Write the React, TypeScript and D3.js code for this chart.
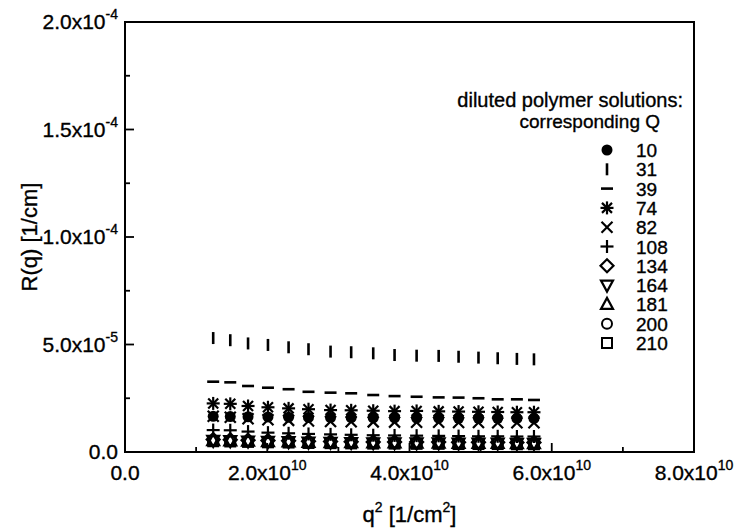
import React from "react";
import * as d3 from "d3";

// q² values (units of 1e10 1/cm²)
const qSquared = [1.24, 1.48, 1.73, 2.01, 2.30, 2.58, 2.89, 3.18, 3.49, 3.79, 4.10, 4.41, 4.69, 4.97, 5.24, 5.51, 5.75];

// R(q) values (units of 1e-5 1/cm), one array per Q
const R10 = [1.66, 1.65, 1.64, 1.63, 1.62, 1.61, 1.60, 1.60, 1.59, 1.59, 1.58, 1.58, 1.57, 1.57, 1.57, 1.56, 1.56];
const R31 = [5.30, 5.20, 5.05, 4.98, 4.87, 4.78, 4.67, 4.64, 4.59, 4.51, 4.48, 4.47, 4.43, 4.39, 4.36, 4.33, 4.31];
const R39 = [3.27, 3.24, 3.07, 2.99, 2.92, 2.80, 2.76, 2.73, 2.65, 2.60, 2.57, 2.54, 2.53, 2.50, 2.45, 2.45, 2.42];
const R74 = [2.26, 2.24, 2.14, 2.08, 2.03, 1.99, 1.95, 1.94, 1.92, 1.90, 1.91, 1.89, 1.88, 1.87, 1.86, 1.85, 1.85];
const R82 = [1.66, 1.62, 1.55, 1.50, 1.47, 1.44, 1.42, 1.41, 1.40, 1.39, 1.38, 1.38, 1.37, 1.37, 1.36, 1.36, 1.36];
const R108 = [1.02, 1.01, 0.95, 0.90, 0.87, 0.84, 0.82, 0.80, 0.78, 0.77, 0.76, 0.75, 0.74, 0.73, 0.73, 0.72, 0.72];
const R134 = [0.58, 0.57, 0.55, 0.53, 0.52, 0.50, 0.49, 0.48, 0.47, 0.47, 0.46, 0.46, 0.45, 0.45, 0.45, 0.44, 0.44];
const R164 = [0.54, 0.53, 0.51, 0.49, 0.48, 0.46, 0.45, 0.44, 0.43, 0.43, 0.42, 0.42, 0.41, 0.41, 0.41, 0.40, 0.40];
const R181 = [0.53, 0.52, 0.50, 0.48, 0.47, 0.45, 0.44, 0.43, 0.42, 0.42, 0.41, 0.41, 0.40, 0.40, 0.40, 0.39, 0.39];
const R200 = [0.52, 0.51, 0.49, 0.47, 0.46, 0.44, 0.43, 0.42, 0.41, 0.41, 0.40, 0.40, 0.39, 0.39, 0.39, 0.38, 0.38];
const R210 = [0.50, 0.49, 0.47, 0.45, 0.44, 0.42, 0.41, 0.40, 0.39, 0.39, 0.38, 0.38, 0.37, 0.37, 0.37, 0.36, 0.36];

const seriesLabels = ["10", "31", "39", "74", "82", "108", "134", "164", "181", "200", "210"];
const seriesValues = [R10, R31, R39, R74, R82, R108, R134, R164, R181, R200, R210];
const seriesSymbols = ["dot", "vbar", "hbar", "asterisk", "cross", "plus", "diamond", "tridown", "triup", "circle", "square"];

const xMajorTicks = [0, 2e10, 4e10, 6e10, 8e10];
const xMinorTicks = [1e10, 3e10, 5e10, 7e10];
const xTickBase = ["0.0", "2.0x10", "4.0x10", "6.0x10", "8.0x10"];
const xTickExp = ["", "10", "10", "10", "10"];
const yMajorTicks = [0, 5e-5, 1e-4, 1.5e-4, 2e-4];
const yMinorTicks = [2.5e-5, 7.5e-5, 1.25e-4, 1.75e-4];
const yTickBase = ["0.0", "5.0x10", "1.0x10", "1.5x10", "2.0x10"];
const yTickExp = ["", "-5", "-4", "-4", "-4"];

const FONT = "'Liberation Sans', Arial, sans-serif";

function Marker({ type, x, y }: { type: string; x: number; y: number }) {
  const k = "#000";
  switch (type) {
    case "dot":
      return <circle cx={x} cy={y} r={5.5} fill={k} />;
    case "vbar":
      return <line x1={x} x2={x} y1={y - 6} y2={y + 6} stroke={k} strokeWidth={2.6} />;
    case "hbar":
      return <line x1={x - 6} x2={x + 6} y1={y} y2={y} stroke={k} strokeWidth={2.6} />;
    case "asterisk":
      return (
        <g stroke={k} strokeWidth={2.2}>
          <line x1={x} x2={x} y1={y - 6.5} y2={y + 6.5} />
          <line x1={x - 6.5} x2={x + 6.5} y1={y} y2={y} />
          <line x1={x - 5} x2={x + 5} y1={y - 5} y2={y + 5} />
          <line x1={x - 5} x2={x + 5} y1={y + 5} y2={y - 5} />
        </g>
      );
    case "cross":
      return (
        <g stroke={k} strokeWidth={2.2}>
          <line x1={x - 5.5} x2={x + 5.5} y1={y - 5.5} y2={y + 5.5} />
          <line x1={x - 5.5} x2={x + 5.5} y1={y + 5.5} y2={y - 5.5} />
        </g>
      );
    case "plus":
      return (
        <g stroke={k} strokeWidth={2.2}>
          <line x1={x} x2={x} y1={y - 6.5} y2={y + 6.5} />
          <line x1={x - 6.5} x2={x + 6.5} y1={y} y2={y} />
        </g>
      );
    case "diamond":
      return <path d={`M${x},${y - 6.5}L${x + 6.5},${y}L${x},${y + 6.5}L${x - 6.5},${y}Z`} fill="none" stroke={k} strokeWidth={2.2} />;
    case "tridown":
      return <path d={`M${x - 6},${y - 4.5}L${x + 6},${y - 4.5}L${x},${y + 6.5}Z`} fill="none" stroke={k} strokeWidth={2.2} />;
    case "triup":
      return <path d={`M${x - 6},${y + 4.5}L${x + 6},${y + 4.5}L${x},${y - 6.5}Z`} fill="none" stroke={k} strokeWidth={2.2} />;
    case "circle":
      return <circle cx={x} cy={y} r={5} fill="none" stroke={k} strokeWidth={2} />;
    case "square":
      return <rect x={x - 5} y={y - 5} width={10} height={10} fill="none" stroke={k} strokeWidth={2} />;
    default:
      return null;
  }
}

export default function App() {
  const left = 125, right = 694, top = 22, bottom = 452;
  const x = d3.scaleLinear().domain([0, 8e10]).range([left, right]);
  const y = d3.scaleLinear().domain([0, 2e-4]).range([bottom, top]);

  const legendX = 607;
  const legendY0 = 150;
  const legendStep = 19.3;
  const txt = { fill: "#000", stroke: "#000", strokeWidth: 0.35 };

  return (
    <svg width={735} height={528} style={{ position: "absolute", left: 0, top: 0, background: "#fff" }} fontFamily={FONT}>
      <rect x={0} y={0} width={735} height={528} fill="#fff" />
      {/* frame */}
      <rect x={left} y={top} width={right - left} height={bottom - top} fill="none" stroke="#000" strokeWidth={2} />
      {/* x ticks */}
      {xMajorTicks.map((t) => (
        <line key={"xM" + t} x1={x(t)} x2={x(t)} y1={bottom} y2={bottom - 9} stroke="#000" strokeWidth={1.8} />
      ))}
      {xMinorTicks.map((t) => (
        <line key={"xm" + t} x1={x(t)} x2={x(t)} y1={bottom} y2={bottom - 5} stroke="#000" strokeWidth={1.8} />
      ))}
      {yMajorTicks.map((t) => (
        <line key={"yM" + t} x1={left} x2={left + 9} y1={y(t)} y2={y(t)} stroke="#000" strokeWidth={1.8} />
      ))}
      {yMinorTicks.map((t) => (
        <line key={"ym" + t} x1={left} x2={left + 5} y1={y(t)} y2={y(t)} stroke="#000" strokeWidth={1.8} />
      ))}
      {/* x tick labels */}
      {xMajorTicks.map((t, i) => (
        <text key={"xl" + t} x={x(t)} y={bottom + 28} textAnchor="middle" fontSize={21} {...txt}>
          <tspan>{xTickBase[i]}</tspan>
          {xTickExp[i] && (
            <tspan fontSize={14} dy={-10}>{xTickExp[i]}</tspan>
          )}
        </text>
      ))}
      {/* y tick labels */}
      {yMajorTicks.map((t, i) => (
        <text key={"yl" + t} x={left - 7} y={y(t) + 7} textAnchor="end" fontSize={21} {...txt}>
          <tspan>{yTickBase[i]}</tspan>
          {yTickExp[i] && (
            <tspan fontSize={14} dy={-10}>{yTickExp[i]}</tspan>
          )}
        </text>
      ))}
      {/* axis titles */}
      <text x={(left + right) / 2} y={522} textAnchor="middle" fontSize={22} {...txt}>
        <tspan>q</tspan>
        <tspan fontSize={14} dy={-10}>2</tspan>
        <tspan dy={10}> [1/cm</tspan>
        <tspan fontSize={14} dy={-10}>2</tspan>
        <tspan dy={10}>]</tspan>
      </text>
      <text transform={`translate(37,${(top + bottom) / 2}) rotate(-90)`} textAnchor="middle" fontSize={22} {...txt}>
        R(q) [1/cm]
      </text>
      {/* data */}
      {seriesValues.map((vals, si) => (
        <g key={"s" + si}>
          {vals.map((v, i) => (
            <Marker key={i} type={seriesSymbols[si]} x={x(qSquared[i] * 1e10)} y={y(v * 1e-5)} />
          ))}
        </g>
      ))}
      {/* legend */}
      <text x={683} y={107} textAnchor="end" fontSize={20} {...txt}>diluted polymer solutions:</text>
      <text x={660} y={128} textAnchor="end" fontSize={19} {...txt}>corresponding Q</text>
      {seriesLabels.map((lab, i) => (
        <g key={"lg" + lab}>
          <Marker type={seriesSymbols[i]} x={legendX} y={legendY0 + i * legendStep} />
          <text x={636} y={legendY0 + i * legendStep + 7} fontSize={19} {...txt}>{lab}</text>
        </g>
      ))}
    </svg>
  );
}
